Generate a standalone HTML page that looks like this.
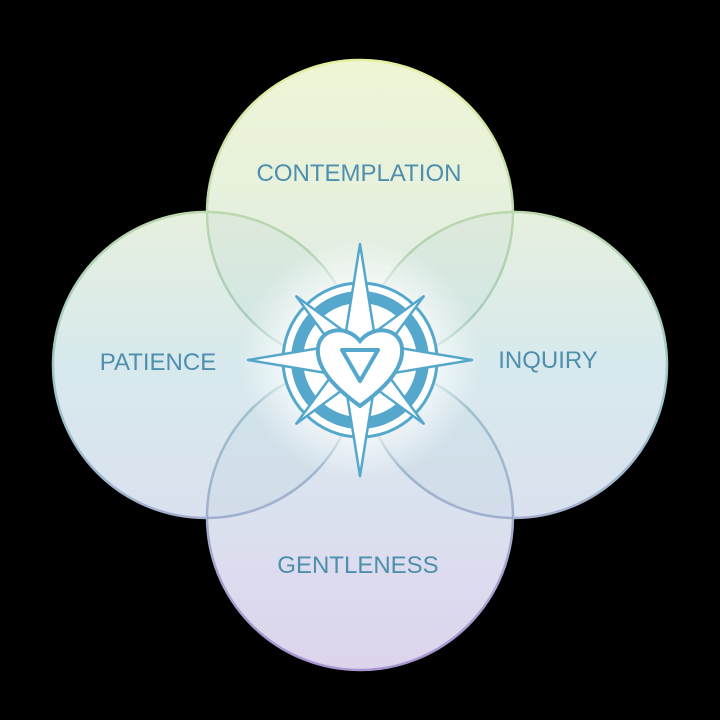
<!DOCTYPE html>
<html><head><meta charset="utf-8"><style>html,body{margin:0;background:#000;width:720px;height:720px;overflow:hidden}</style></head>
<body>
<svg width="720" height="720" viewBox="0 0 720 720" xmlns="http://www.w3.org/2000/svg">
<defs>
<linearGradient id="bg" gradientUnits="userSpaceOnUse" x1="0" y1="60" x2="0" y2="670">
<stop offset="0" stop-color="#f8fcd8"/>
<stop offset="0.25" stop-color="#f0f6e2"/>
<stop offset="0.5" stop-color="#e0eff2"/>
<stop offset="0.75" stop-color="#e4e6f4"/>
<stop offset="1" stop-color="#e6d8f0"/>
</linearGradient>
<linearGradient id="st" gradientUnits="userSpaceOnUse" x1="0" y1="60" x2="0" y2="670">
<stop offset="0" stop-color="#e4f0a0"/>
<stop offset="0.3" stop-color="#b4d4b0"/>
<stop offset="0.55" stop-color="#9cc4cc"/>
<stop offset="1" stop-color="#a894d0"/>
</linearGradient>
<radialGradient id="glow" cx="360" cy="360" r="120" gradientUnits="userSpaceOnUse">
<stop offset="0" stop-color="#fff" stop-opacity="1"/>
<stop offset="0.6" stop-color="#fff" stop-opacity="0.7"/>
<stop offset="1" stop-color="#fff" stop-opacity="0"/>
</radialGradient>
</defs>
<g fill="url(#bg)">
<circle cx="360" cy="213" r="153"/><circle cx="360" cy="517" r="153"/>
<circle cx="206" cy="365" r="153"/><circle cx="514" cy="365" r="153"/>
</g>
<g fill="#5a9cb0" fill-opacity="0.06">
<circle cx="360" cy="213" r="153"/><circle cx="360" cy="517" r="153"/>
<circle cx="206" cy="365" r="153"/><circle cx="514" cy="365" r="153"/>
</g>
<g fill="none" stroke="url(#st)" stroke-width="2.5">
<circle cx="360" cy="213" r="153"/><circle cx="360" cy="517" r="153"/>
<circle cx="206" cy="365" r="153"/><circle cx="514" cy="365" r="153"/>
</g>
<circle cx="360" cy="360" r="125" fill="url(#glow)"/>
<g font-family="Liberation Sans, sans-serif" font-size="24" fill="#4f8fae" text-anchor="middle">
<text x="359" y="181">CONTEMPLATION</text>
<text x="158" y="370">PATIENCE</text>
<text x="548" y="368">INQUIRY</text>
<text x="358" y="573">GENTLENESS</text>
</g>
<g transform="translate(360,360)">
<circle r="77" fill="#fff" stroke="#55a8cc" stroke-width="3"/>
<circle r="63" fill="none" stroke="#55a8cc" stroke-width="12"/>
<g fill="#fff" stroke="#55a8cc" stroke-width="2.5" stroke-linejoin="round">
<g transform="rotate(45)"><polygon points="0,-90 12,-12 0,0 -12,-12"/><polygon points="0,90 12,12 0,0 -12,12"/><polygon points="-90,0 -12,12 0,0 -12,-12"/><polygon points="90,0 12,12 0,0 12,-12"/></g>
<polygon points="0,-116 16,-16 0,0 -16,-16"/><polygon points="0,116 16,16 0,0 -16,16"/>
<polygon points="-112,0 -16,16 0,0 -16,-16"/><polygon points="112,0 16,16 0,0 16,-16"/>
</g>
<path d="M0,46 C-22,30 -44,10 -42,-12 C-40,-32 -14,-36 0,-19 C14,-36 40,-32 42,-12 C44,10 22,30 0,46 Z" fill="#fff" stroke="#55a8cc" stroke-width="4"/>
<polygon points="-18,-10 18,-10 0,21" fill="none" stroke="#55a8cc" stroke-width="4" stroke-linejoin="round"/>
</g>
</svg>
</body></html>
